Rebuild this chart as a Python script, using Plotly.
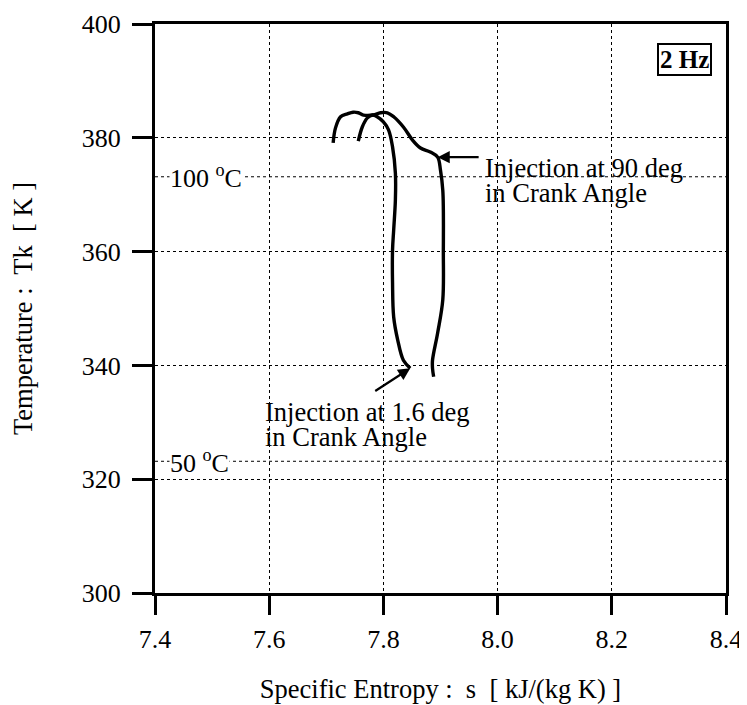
import plotly.graph_objects as go

# Injection at 90 deg in crank angle (outer curve)
s_90 = [7.712, 7.716, 7.725, 7.737, 7.747, 7.756, 7.765, 7.782, 7.795, 7.807, 7.818, 7.835,
        7.851, 7.865, 7.882, 7.895, 7.900, 7.904, 7.905, 7.905, 7.904, 7.895, 7.886, 7.886, 7.888]
t_90 = [379.1, 381.7, 383.7, 384.2, 384.5, 384.4, 384.0, 384.0, 384.4, 384.4, 383.7, 381.9,
        379.6, 378.2, 377.5, 376.6, 374.3, 370.8, 367.3, 360.3, 351.5, 345.7, 340.9, 339.5, 338.0]

# Injection at 1.6 deg in crank angle (inner curve)
s_16 = [7.756, 7.763, 7.772, 7.781, 7.789, 7.800, 7.809, 7.816, 7.821, 7.821, 7.818, 7.816,
        7.816, 7.818, 7.825, 7.835, 7.847]
t_16 = [379.4, 381.9, 383.5, 384.0, 383.7, 382.8, 381.4, 378.4, 373.8, 369.1, 363.8, 360.3,
        354.5, 348.5, 344.5, 340.9, 339.5]

x_ticks = [7.4, 7.6, 7.8, 8.0, 8.2, 8.4]
x_tick_labels = ["7.4", "7.6", "7.8", "8.0", "8.2", "8.4"]
y_ticks = [300, 320, 340, 360, 380, 400]
celsius_lines = [373.15, 323.15]
celsius_labels = ["100 <sup>o</sup>C", "50 <sup>o</sup>C"]

FONT = "Liberation Serif"
font = dict(family=FONT, size=26.5, color="black")
tfont = dict(family=FONT, size=26, color="black")

fig = go.Figure()
fig.add_trace(go.Scatter(x=s_90, y=t_90, mode="lines", line=dict(color="black", width=3.4, shape="spline"),
                         showlegend=False, hoverinfo="skip"))
fig.add_trace(go.Scatter(x=s_16, y=t_16, mode="lines", line=dict(color="black", width=3.4, shape="spline"),
                         showlegend=False, hoverinfo="skip"))

for yv, lab in zip(celsius_lines, celsius_labels):
    fig.add_shape(type="line", x0=7.4, x1=8.4, y0=yv, y1=yv, xref="x", yref="y",
                  line=dict(color="black", width=1, dash="dot"), layer="below")
    fig.add_annotation(x=7.425, y=yv, text=lab, showarrow=False, xanchor="left", yanchor="middle",
                       bgcolor="white", font=tfont, borderpad=0)

# arrows
fig.add_annotation(x=s_90[15], y=t_90[15], ax=46, ay=0, text=" ", showarrow=True,
                   arrowhead=2, arrowsize=1.1, arrowwidth=2.2, arrowcolor="black")
fig.add_annotation(x=s_16[-1], y=t_16[-1], ax=-40, ay=26, text=" ", showarrow=True,
                   arrowhead=2, arrowsize=1.1, arrowwidth=2.2, arrowcolor="black")

def label(x, y, txt):
    fig.add_annotation(x=x, y=y, xref="paper", yref="paper", text=txt, showarrow=False,
                       xanchor="left", yanchor="middle", font=font)

label(0.574, 0.747, "Injection at 90 deg")
label(0.574, 0.703, "in Crank Angle")
label(0.19, 0.318, "Injection at 1.6 deg")
label(0.19, 0.274, "in Crank Angle")

fig.add_annotation(text="<b>2 Hz</b>", xref="paper", yref="paper", x=0.975, y=0.967,
                   xanchor="right", yanchor="top", showarrow=False, bordercolor="black", borderwidth=2,
                   borderpad=1, bgcolor="white", font=dict(family=FONT, size=25, color="black"))

fig.update_layout(
    width=747, height=705,
    margin=dict(l=147, r=29, t=16, b=120),
    paper_bgcolor="white", plot_bgcolor="white",
    font=font,
    xaxis=dict(range=[7.4, 8.4], tickvals=x_ticks, ticktext=x_tick_labels, automargin=False,
               ticks="outside", ticklen=19, tickwidth=3, tickcolor="black", ticklabelstandoff=2,
               tickfont=tfont,
               showline=True, linewidth=3, linecolor="black", mirror=True,
               showgrid=True, gridcolor="black", gridwidth=1, griddash="dot", zeroline=False,
               title=dict(text="Specific Entropy :  s  [ kJ/(kg K) ]", standoff=27, font=font)),
    yaxis=dict(range=[300, 400], tickvals=y_ticks, automargin=False,
               ticks="outside", ticklen=20, tickwidth=3, tickcolor="black", ticklabelstandoff=6,
               tickfont=tfont,
               showline=True, linewidth=3, linecolor="black", mirror=True,
               showgrid=True, gridcolor="black", gridwidth=1, griddash="dot", zeroline=False,
               title=dict(text="Temperature :  Tk  [ K ]", standoff=46, font=font)),
)

fig.write_html("out.html")
